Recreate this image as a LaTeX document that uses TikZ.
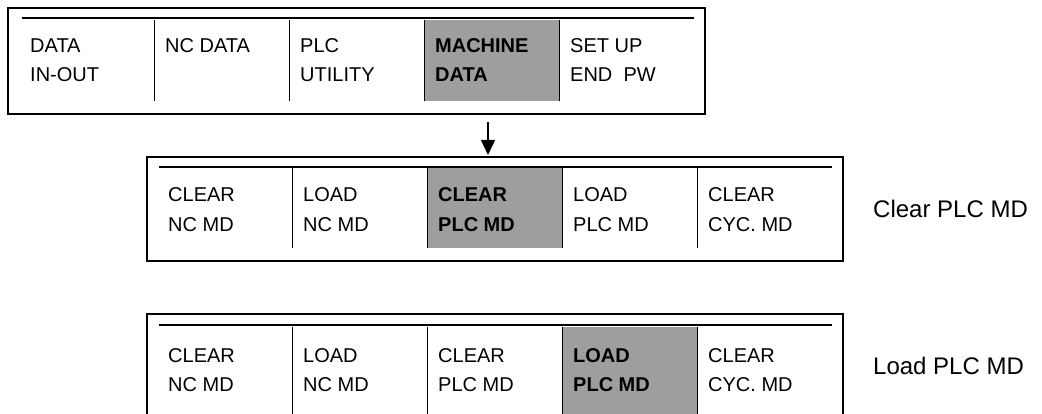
\documentclass[tikz,border=0pt]{standalone}
\usepackage{fontspec}
\setmainfont{Liberation Sans}
\usetikzlibrary{arrows.meta}
\begin{document}
\begin{tikzpicture}[x=1pt,y=-1pt,
  frame/.style={draw, line width=1.8pt, inner sep=0pt, anchor=north west},
  rule/.style={line width=1.3pt},
  divider/.style={line width=0.9pt},
  shade/.style={fill=black!38, draw=none},
  cell/.style={anchor=base west, inner sep=0pt, font=\fontsize{20}{24}\selectfont},
  cellb/.style={cell, font=\fontsize{20}{24}\selectfont\bfseries},
  lbl/.style={anchor=base west, inner sep=0pt, font=\fontsize{24}{28}\selectfont},
  arr/.style={line width=1.4pt, -{Triangle[length=15pt,width=14pt]}}]
\useasboundingbox (0,0) rectangle (1042,414);
\clip (0,0) rectangle (1042,414);

% ---------- top box ----------
\node[frame, minimum width=697pt, minimum height=106pt] (topbox) at (7,7) {};
\draw[rule] (22,18) -- (694,18);
\fill[shade] (424,20) rectangle (559,101);
\foreach \x in {154,289,424,559} \draw[divider] (\x,20) -- (\x,101);
\node[cell]  (t1a) at (30,53)  {DATA};
\node[cell]  (t1b) at (30,82)  {IN-OUT};
\node[cell]  (t2a) at (165,53) {NC DATA};
\node[cell]  (t3a) at (300,53) {PLC};
\node[cell]  (t3b) at (300,82) {UTILITY};
\node[cellb] (t4a) at (435,53) {MACHINE};
\node[cellb] (t4b) at (435,82) {DATA};
\node[cell]  (t5a) at (570,53) {SET UP};
\node[cell]  (t5b) at (570,82) {END\ \ PW};

% ---------- arrow ----------
\coordinate (a1) at (488,122);
\coordinate (a2) at (488,155);
\draw[arr] (a1) -- (a2);

% ---------- middle box ----------
\node[frame, minimum width=696pt, minimum height=104pt] (midbox) at (146,156) {};
\draw[rule] (159,167) -- (832,167);
\fill[shade] (427,168) rectangle (562,248);
\foreach \x in {292,427,562,697} \draw[divider] (\x,168) -- (\x,248);
\node[cell]  (m1a) at (168,202) {CLEAR};
\node[cell]  (m1b) at (168,232) {NC MD};
\node[cell]  (m2a) at (303,202) {LOAD};
\node[cell]  (m2b) at (303,232) {NC MD};
\node[cellb] (m3a) at (438,202) {CLEAR};
\node[cellb] (m3b) at (438,232) {PLC MD};
\node[cell]  (m4a) at (573,202) {LOAD};
\node[cell]  (m4b) at (573,232) {PLC MD};
\node[cell]  (m5a) at (708,202) {CLEAR};
\node[cell]  (m5b) at (708,232) {CYC. MD};
\node[lbl]   (l1)  at (873,218) {Clear PLC MD};

% ---------- bottom box ----------
\node[frame, minimum width=696pt, minimum height=120pt] (botbox) at (146,313) {};
\draw[rule] (159,325) -- (832,325);
\fill[shade] (562,327) rectangle (697,420);
\foreach \x in {292,427,562,697} \draw[divider] (\x,327) -- (\x,420);
\node[cell]  (b1a) at (168,362) {CLEAR};
\node[cell]  (b1b) at (168,391) {NC MD};
\node[cell]  (b2a) at (303,362) {LOAD};
\node[cell]  (b2b) at (303,391) {NC MD};
\node[cell]  (b3a) at (438,362) {CLEAR};
\node[cell]  (b3b) at (438,391) {PLC MD};
\node[cellb] (b4a) at (573,362) {LOAD};
\node[cellb] (b4b) at (573,391) {PLC MD};
\node[cell]  (b5a) at (708,362) {CLEAR};
\node[cell]  (b5b) at (708,391) {CYC. MD};
\node[lbl]   (l2)  at (873,374) {Load PLC MD};
\end{tikzpicture}
\end{document}
